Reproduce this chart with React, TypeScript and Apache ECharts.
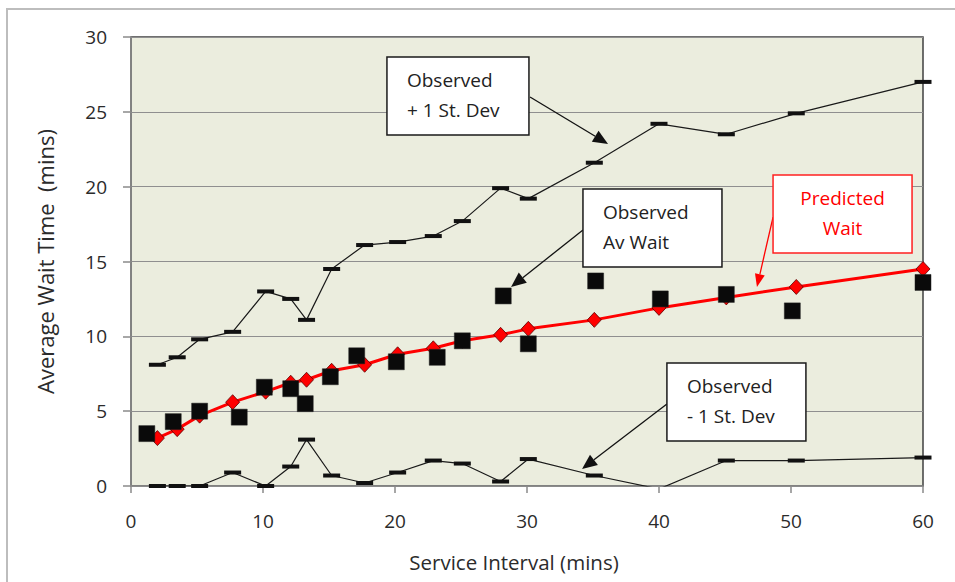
import React, { useEffect, useRef } from "react";
import * as echarts from "echarts";

// ---- Data ----
const predictedIntervals = [2, 3.5, 5.2, 7.7, 10.2, 12.1, 13.3, 15.2, 17.7, 20.2, 22.9, 25.1, 28, 30.1, 35.1, 40, 45.1, 50.4, 60];
const plusOneStDev = [8.1, 8.6, 9.8, 10.3, 13.0, 12.5, 11.1, 14.5, 16.1, 16.3, 16.7, 17.7, 19.9, 19.2, 21.6, 24.2, 23.5, 24.9, 27.0];
const minusOneStDev = [0, 0, 0, 0.9, 0, 1.3, 3.1, 0.7, 0.2, 0.9, 1.7, 1.5, 0.3, 1.8, 0.7, -0.2, 1.7, 1.7, 1.9];
const predictedWait = [3.2, 3.8, 4.7, 5.6, 6.3, 6.9, 7.1, 7.7, 8.1, 8.8, 9.2, 9.7, 10.1, 10.5, 11.1, 11.9, 12.6, 13.3, 14.5];
const observedIntervals = [1.2, 3.2, 5.2, 8.2, 10.1, 12.1, 13.2, 15.1, 17.1, 20.1, 23.2, 25.1, 28.2, 30.1, 35.2, 40.1, 45.1, 50.1, 60];
const observedWait = [3.5, 4.3, 5.0, 4.6, 6.6, 6.5, 5.5, 7.3, 8.7, 8.3, 8.6, 9.7, 12.7, 9.5, 13.7, 12.5, 12.8, 11.7, 13.6];

const xAxisTitle = "Service Interval (mins)";
const yAxisTitle = "Average Wait Time  (mins)";

// Callouts: box top-left and arrow ends in data coordinates
const calloutLines = [
  ["Observed", "+ 1 St. Dev"],
  ["Observed", "Av Wait"],
  ["Predicted", "Wait"],
  ["Observed", "- 1 St. Dev"],
];
const calloutBoxAt = [
  [19.39, 28.66],
  [34.24, 19.84],
  [48.64, 20.78],
  [40.6, 8.22],
];
const calloutArrowFrom = [
  [30.23, 25.99],
  [34.24, 17.1],
  [48.64, 17.97],
  [40.6, 5.48],
];
const calloutArrowTo = [
  [36.14, 22.85],
  [28.79, 13.3],
  [47.42, 13.3],
  [34.17, 1.14],
];

const FONT = "'Open Sans', 'Noto Sans', sans-serif";
const TEXT = "#2b2b2b";

const zip = (xs: number[], ys: number[]) => xs.map((x, i) => [x, ys[i]]);

export default function App() {
  const ref = useRef<HTMLDivElement>(null);

  useEffect(() => {
    document.body.style.margin = "0";
    if (!ref.current) return;
    const chart = echarts.init(ref.current, null, { renderer: "svg" });

    chart.setOption({
      animation: false,
      backgroundColor: "#ffffff",
      grid: {
        left: 131,
        top: 37,
        right: 32,
        bottom: 96,
        show: true,
        backgroundColor: "#EBEDDE",
        borderColor: "#404040",
        borderWidth: 1.5,
      },
      xAxis: {
        type: "value",
        min: 0,
        max: 60,
        interval: 10,
        axisLine: { show: true, onZero: false, lineStyle: { color: "#8a8a8a", width: 1.5 } },
        axisTick: { show: true, inside: false, length: 7, lineStyle: { color: "#8a8a8a", width: 1.5 } },
        axisLabel: { color: TEXT, fontFamily: FONT, fontSize: 19, margin: 25 },
        splitLine: { show: false },
      },
      yAxis: {
        type: "value",
        min: 0,
        max: 30,
        interval: 5,
        axisLine: { show: true, lineStyle: { color: "#8a8a8a", width: 1.5 } },
        axisTick: { show: true, inside: false, length: 8, lineStyle: { color: "#8a8a8a", width: 1.5 } },
        axisLabel: { color: TEXT, fontFamily: FONT, fontSize: 19, margin: 24 },
        splitLine: { show: true, lineStyle: { color: "#8f8f8f", width: 1.2 } },
      },
      series: [
        {
          name: "+1 St. Dev",
          type: "line",
          data: zip(predictedIntervals, plusOneStDev),
          lineStyle: { color: "#1a1a1a", width: 1.2 },
          symbol: "rect",
          symbolSize: [17, 4],
          itemStyle: { color: "#111111" },
          z: 2,
        },
        {
          name: "-1 St. Dev",
          type: "line",
          data: zip(predictedIntervals, minusOneStDev),
          lineStyle: { color: "#1a1a1a", width: 1.2 },
          symbol: "rect",
          symbolSize: [17, 4],
          itemStyle: { color: "#111111" },
          z: 2,
        },
        {
          name: "Predicted Wait",
          type: "line",
          data: zip(predictedIntervals, predictedWait),
          lineStyle: { color: "#ff0000", width: 3 },
          symbol: "diamond",
          symbolSize: [14, 15],
          itemStyle: { color: "#ff0000", borderColor: "#5a0000", borderWidth: 0.8 },
          z: 3,
        },
        {
          name: "Observed Av Wait",
          type: "scatter",
          data: zip(observedIntervals, observedWait),
          symbol: "rect",
          symbolSize: 16,
          itemStyle: { color: "#0a0a0a", opacity: 1, borderColor: "#222", borderWidth: 0.5 },
          z: 4,
        },
      ],
    });

    const px = (pt: number[]) => chart.convertToPixel({ gridIndex: 0 }, pt) as number[];
    const graphics: any[] = [];

    // outer frame
    graphics.push({
      type: "rect",
      shape: { x: 7, y: 9, width: 1000, height: 700 },
      style: { fill: "none", stroke: "#bdbdbd", lineWidth: 2 },
      silent: true,
      z: 0,
    });

    // axis titles
    const gridRect = { l: px([0, 0])[0], r: px([60, 0])[0], t: px([0, 30])[1], b: px([0, 0])[1] };
    graphics.push({
      type: "text",
      x: (gridRect.l + gridRect.r) / 2 - 13,
      y: 562,
      style: { text: xAxisTitle, fill: TEXT, font: `20.5px ${FONT}`, textAlign: "center", textVerticalAlign: "middle" },
      z: 10,
    });
    graphics.push({
      type: "text",
      x: 45,
      y: (gridRect.t + gridRect.b) / 2,
      rotation: Math.PI / 2,
      style: { text: yAxisTitle, fill: TEXT, font: `22px ${FONT}`, textAlign: "center", textVerticalAlign: "middle" },
      z: 10,
    });

    const boxW = [142, 139, 139, 139];
    const boxH = 78;
    calloutLines.forEach((lines, i) => {
      const isRed = i === 2;
      const col = isRed ? "#ff0000" : "#111111";
      const tl = px(calloutBoxAt[i]);
      const from = px(calloutArrowFrom[i]);
      const to = px(calloutArrowTo[i]);
      // arrow
      const dx = to[0] - from[0];
      const dy = to[1] - from[1];
      const len = Math.hypot(dx, dy);
      const ux = dx / len;
      const uy = dy / len;
      const L = isRed ? 13 : 15;
      const W = isRed ? 5 : 6.5;
      const bx = to[0] - ux * L;
      const by = to[1] - uy * L;
      graphics.push({
        type: "line",
        shape: { x1: from[0], y1: from[1], x2: bx, y2: by },
        style: { stroke: col, lineWidth: 1.3 },
        z: 11,
      });
      graphics.push({
        type: "polygon",
        shape: {
          points: [
            [to[0], to[1]],
            [bx - uy * W, by + ux * W],
            [bx + uy * W, by - ux * W],
          ],
        },
        style: { fill: col },
        z: 11,
      });
      // box
      graphics.push({
        type: "rect",
        shape: { x: tl[0], y: tl[1], width: boxW[i], height: boxH },
        style: { fill: "#ffffff", stroke: isRed ? "#ff2020" : "#1a1a1a", lineWidth: 1.5 },
        z: 12,
      });
      lines.forEach((t, j) => {
        graphics.push({
          type: "text",
          x: isRed ? tl[0] + boxW[i] / 2 : tl[0] + 20,
          y: tl[1] + 23 + j * 30,
          style: {
            text: t,
            fill: isRed ? "#ff0000" : "#222222",
            font: `19px ${FONT}`,
            textAlign: isRed ? "center" : "left",
            textVerticalAlign: "middle",
          },
          z: 13,
        });
      });
    });

    chart.setOption({ graphic: graphics });

    return () => chart.dispose();
  }, []);

  return <div ref={ref} style={{ width: 955, height: 582 }} />;
}
